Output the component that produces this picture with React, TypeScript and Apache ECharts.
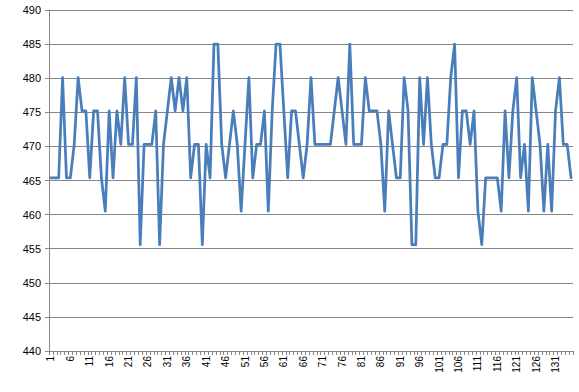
import React, { useEffect, useRef } from "react";
import * as echarts from "echarts";

const categories: string[] = Array.from({ length: 135 }, (_, i) => String(i + 1));

const values: number[] = [
  465.4, 465.4, 465.4, 480.1, 465.4, 465.4, 470.3, 480.1, 475.2, 475.2,
  465.4, 475.2, 475.2, 465.4, 460.5, 475.2, 465.4, 475.2, 470.3, 480.1,
  470.3, 470.3, 480.1, 455.6, 470.3, 470.3, 470.3, 475.2, 455.6, 470.3,
  475.2, 480.1, 475.2, 480.1, 475.2, 480.1, 465.4, 470.3, 470.3, 455.6,
  470.3, 465.4, 485.0, 485.0, 470.3, 465.4, 470.3, 475.2, 470.3, 460.5,
  470.3, 480.1, 465.4, 470.3, 470.3, 475.2, 460.5, 475.2, 485.0, 485.0,
  475.2, 465.4, 475.2, 475.2, 470.3, 465.4, 470.3, 480.1, 470.3, 470.3,
  470.3, 470.3, 470.3, 475.2, 480.1, 475.2, 470.3, 485.0, 470.3, 470.3,
  470.3, 480.1, 475.2, 475.2, 475.2, 470.3, 460.5, 475.2, 470.3, 465.4,
  465.4, 480.1, 475.2, 455.6, 455.6, 480.1, 470.3, 480.1, 470.3, 465.4,
  465.4, 470.3, 470.3, 480.1, 485.0, 465.4, 475.2, 475.2, 470.3, 475.2,
  460.5, 455.6, 465.4, 465.4, 465.4, 465.4, 460.5, 475.2, 465.4, 475.2,
  480.1, 465.4, 470.3, 460.5, 480.1, 475.2, 470.3, 460.5, 470.3, 460.5,
  475.2, 480.1, 470.3, 470.3, 465.4,
];

const yMin = 440;
const yMax = 490;
const yStep = 5;

export default function App() {
  const ref = useRef<HTMLDivElement>(null);

  useEffect(() => {
    if (!ref.current) return;
    const chart = echarts.init(ref.current, undefined, { renderer: "svg" });
    const gridColor = "#868686";
    chart.setOption({
      animation: false,
      backgroundColor: "#ffffff",
      textStyle: { fontFamily: "Liberation Sans, Arial, sans-serif" },
      grid: { left: 49, right: 6, top: 10, bottom: 41, containLabel: false },
      xAxis: {
        type: "category",
        data: categories,
        boundaryGap: true,
        axisLine: { show: true, lineStyle: { color: gridColor, width: 1 } },
        axisTick: { show: true, interval: 0, length: 4, lineStyle: { color: gridColor } },
        axisLabel: {
          interval: 4,
          rotate: 90,
          fontSize: 10,
          color: "#000000",
          margin: 5,
        },
        splitLine: { show: false },
      },
      yAxis: {
        type: "value",
        min: yMin,
        max: yMax,
        interval: yStep,
        axisLine: { show: true, lineStyle: { color: gridColor, width: 1 } },
        axisTick: { show: true, length: 4, lineStyle: { color: gridColor } },
        axisLabel: { fontSize: 11, color: "#000000", margin: 8 },
        splitLine: { show: true, lineStyle: { color: gridColor, width: 1 } },
      },
      series: [
        {
          type: "line",
          data: values,
          showSymbol: false,
          symbol: "none",
          lineStyle: { color: "#4a7ebb", width: 2.75, join: "round", cap: "round" },
          itemStyle: { color: "#4a7ebb" },
        },
      ],
    });
    return () => chart.dispose();
  }, []);

  return (
    <div
      ref={ref}
      style={{ position: "fixed", left: 0, top: 0, width: 579, height: 392, background: "#fff" }}
    />
  );
}
